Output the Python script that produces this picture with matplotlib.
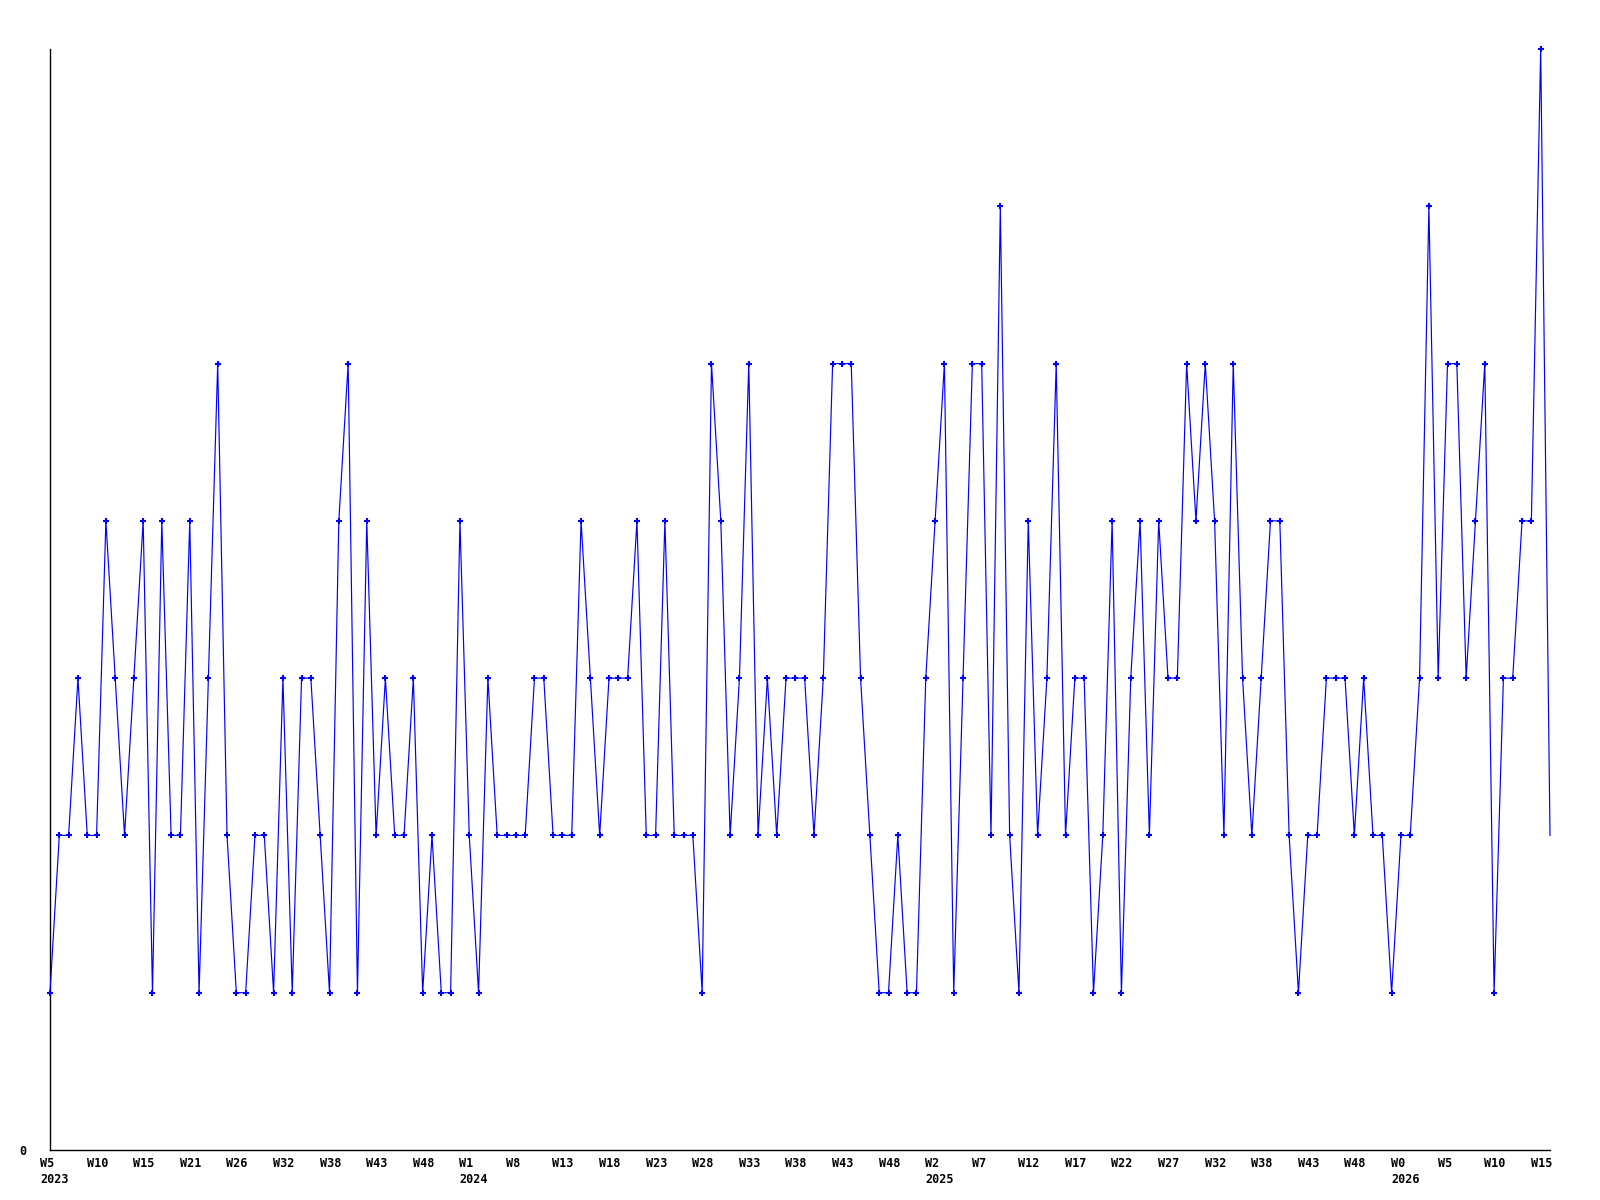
import matplotlib
matplotlib.use("Agg")
import matplotlib.pyplot as plt
import matplotlib.transforms as mtransforms

values = [1, 2, 2, 3, 2, 2, 4, 3, 2, 3,
          4, 1, 4, 2, 2, 4, 1, 3, 5, 2,
          1, 1, 2, 2, 1, 3, 1, 3, 3, 2,
          1, 4, 5, 1, 4, 2, 3, 2, 2, 3,
          1, 2, 1, 1, 4, 2, 1, 3, 2, 2,
          2, 2, 3, 3, 2, 2, 2, 4, 3, 2,
          3, 3, 3, 4, 2, 2, 4, 2, 2, 2,
          1, 5, 4, 2, 3, 5, 2, 3, 2, 3,
          3, 3, 2, 3, 5, 5, 5, 3, 2, 1,
          1, 2, 1, 1, 3, 4, 5, 1, 3, 5,
          5, 2, 6, 2, 1, 4, 2, 3, 5, 2,
          3, 3, 1, 2, 4, 1, 3, 4, 2, 4,
          3, 3, 5, 4, 5, 4, 2, 5, 3, 2,
          3, 4, 4, 2, 1, 2, 2, 3, 3, 3,
          2, 3, 2, 2, 1, 2, 2, 3, 6, 3,
          5, 5, 3, 4, 5, 1, 3, 3, 4, 4,
          7, 2]

week_labels = ["W5", "W10", "W15", "W21", "W26", "W32", "W38", "W43", "W48",
               "W1", "W8", "W13", "W18", "W23", "W28", "W33", "W38", "W43", "W48",
               "W2", "W7", "W12", "W17", "W22", "W27", "W32", "W38", "W43", "W48",
               "W0", "W5", "W10", "W15"]
year_labels = {0: "2023", 9: "2024", 19: "2025", 29: "2026"}
label_step = 5

fig = plt.figure(figsize=(16, 12), dpi=100)
ax = fig.add_axes([50 / 1600, 1 - 1150 / 1200, 1500 / 1600, (1150 - 49) / 1200])

x = list(range(len(values)))
ax.plot(x, values, color="#0000ff", linewidth=0.85, zorder=3, clip_on=False)
ax.plot(x[:-1], values[:-1], linestyle="none", color="#0000ff", marker="+",
        markersize=3.8, markeredgewidth=1.5, zorder=4, clip_on=False)

ax.set_xlim(0, len(values) - 1)
ax.set_ylim(0, 7)

for s in ("top", "right"):
    ax.spines[s].set_visible(False)
for s in ("left", "bottom"):
    ax.spines[s].set_color("black")
    ax.spines[s].set_linewidth(1.0)

font = dict(family="DejaVu Sans Mono", weight="bold", size=8.5)

ticks = [i * label_step for i in range(len(week_labels))]
labels = []
for i, w in enumerate(week_labels):
    if i in year_labels:
        labels.append(w + "\n" + year_labels[i])
    else:
        labels.append(w)
ax.set_xticks(ticks)
ax.set_xticklabels(labels, ha="left", va="top", linespacing=1.35, **font)
ax.tick_params(axis="x", length=0, pad=5)
offset = mtransforms.ScaledTranslation(-10 / 100, 0, fig.dpi_scale_trans)
for lab in ax.get_xticklabels():
    lab.set_transform(lab.get_transform() + offset)
    lab.set_multialignment("left")

ax.set_yticks([0])
ax.set_yticklabels(["0"], **font)
ax.tick_params(axis="y", length=0, pad=17)

fig.savefig("out.png", dpi=100, facecolor="white")
